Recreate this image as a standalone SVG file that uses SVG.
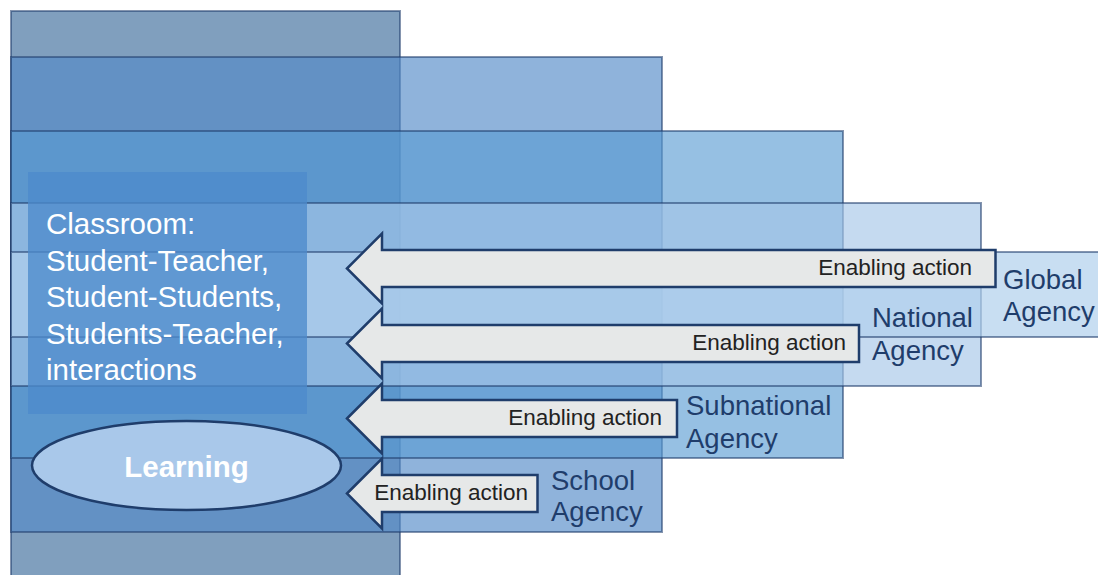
<svg xmlns="http://www.w3.org/2000/svg" width="1098" height="575" viewBox="0 0 1098 575">
<defs>
<style>
.box{stroke:#1f3d6b;stroke-opacity:0.55;stroke-width:2}
.arrow{fill:#e6e8e8;stroke:#1f3d6b;stroke-width:2.5;stroke-linejoin:miter}
.ea{font-family:"Liberation Sans",Arial,sans-serif;font-size:22.5px;fill:#222222;text-anchor:end}
.ag{font-family:"Liberation Sans",Arial,sans-serif;font-size:27.5px;fill:#1f3d6b}
.cl{font-family:"Liberation Sans",Arial,sans-serif;font-size:29.5px;fill:#ffffff}
.lr{font-family:"Liberation Sans",Arial,sans-serif;font-size:29.5px;font-weight:bold;fill:#ffffff;text-anchor:middle}
</style>
</defs>
<rect width="1098" height="575" fill="#ffffff"/>
<g id="node-outer">
<rect class="box" x="11" y="11" width="389" height="570" fill="#809fbe"/>
</g>
<g id="node-school">
<rect class="box" x="11" y="57" width="651" height="475" fill="#538ac8" fill-opacity="0.65"/>
</g>
<g id="node-subnational">
<rect class="box" x="11" y="131" width="832" height="327" fill="#589bd3" fill-opacity="0.63"/>
</g>
<g id="node-national">
<rect class="box" x="11" y="203" width="970" height="183" fill="#a6c6e8" fill-opacity="0.65"/>
</g>
<g id="node-global">
<rect class="box" x="11" y="252" width="1095" height="85" fill="#b0d0ec" fill-opacity="0.7"/>
</g>
<g id="node-classroom">
<rect x="28" y="172" width="279" height="242" fill="#4d8acc" fill-opacity="0.78"/>
<text class="cl" x="46" y="234">Classroom:</text>
<text class="cl" x="46" y="270.5">Student-Teacher,</text>
<text class="cl" x="46" y="307">Student-Students,</text>
<text class="cl" x="46" y="343.5">Students-Teacher,</text>
<text class="cl" x="46" y="380">interactions</text>
</g>
<g id="node-learning">
<ellipse cx="186.5" cy="465.5" rx="154.5" ry="44.5" fill="#a9c8ea" stroke="#1f3d6b" stroke-width="2.5"/>
<text class="lr" x="186.5" y="476.5">Learning</text>
</g>
<g id="connectors">
<polygon class="arrow" points="347,268.5 382,233.5 382,250 995.5,250 995.5,287 382,287 382,303.5"/>
<polygon class="arrow" points="347,343.5 382,308.5 382,325 859,325 859,362 382,362 382,378.5"/>
<polygon class="arrow" points="347,418.5 382,383.5 382,400 677,400 677,437 382,437 382,453.5"/>
<polygon class="arrow" points="347,493.5 382,458.5 382,475 537.5,475 537.5,512 382,512 382,528.5"/>
<text class="ea" x="972" y="275">Enabling action</text>
<text class="ea" x="846" y="350">Enabling action</text>
<text class="ea" x="662" y="425">Enabling action</text>
<text class="ea" x="528" y="500">Enabling action</text>
</g>
<g id="label-global">
<text class="ag" x="1003" y="289">Global</text>
<text class="ag" x="1003" y="321">Agency</text>
</g>
<g id="label-national">
<text class="ag" x="872" y="327">National</text>
<text class="ag" x="872" y="359.5">Agency</text>
</g>
<g id="label-subnational">
<text class="ag" x="686" y="415">Subnational</text>
<text class="ag" x="686" y="448">Agency</text>
</g>
<g id="label-school">
<text class="ag" x="551" y="489.5">School</text>
<text class="ag" x="551" y="521">Agency</text>
</g>
</svg>
